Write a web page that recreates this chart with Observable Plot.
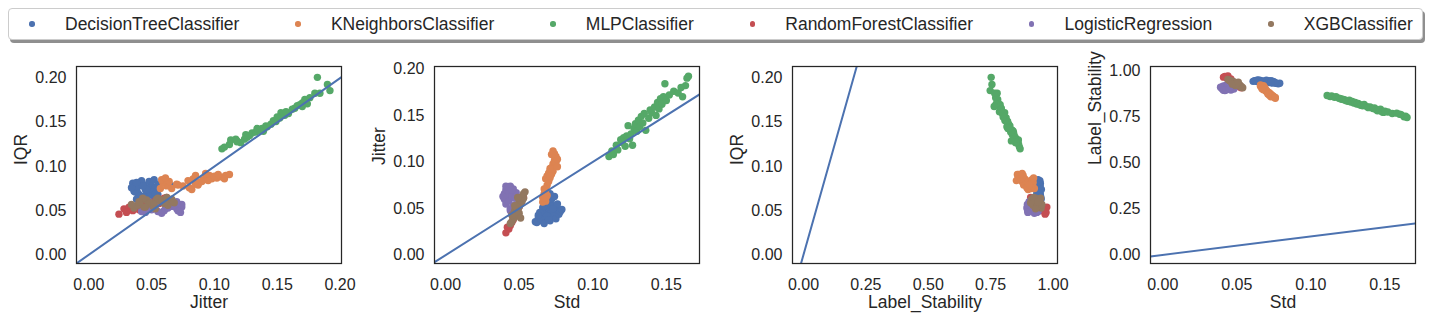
<!DOCTYPE html>
<html><head><meta charset="utf-8">
<script src="https://cdn.jsdelivr.net/npm/d3@7"></script>
<script src="https://cdn.jsdelivr.net/npm/@observablehq/plot@0.6"></script>
<style>
html,body{margin:0;padding:0;background:#fff}
body{width:1431px;height:317px;position:relative;overflow:hidden;font-family:"Liberation Sans",Arial,sans-serif;color:#262626}
#legend{position:absolute;left:8px;top:8px;width:1415px;height:32px;border:1px solid #cccccc;border-radius:4px;box-shadow:2px 3px 0 #8f8f8f;background:#fff;display:flex;align-items:center;font-size:17.5px;box-sizing:border-box;padding-left:20.25px}
.item{display:flex;align-items:center;white-space:nowrap}
.sw{width:5.5px;height:5.5px;border-radius:50%;margin-right:30.25px;flex:none}
.item + .item{margin-left:55.75px}
.panel{position:absolute;top:56px}
</style>
</head><body>
<div id="legend"></div>
<div id="charts"></div>
<script>
// ---- data: each row is [Std, Jitter, IQR, Label_Stability] ----
const classifiers = ["DecisionTreeClassifier","KNeighborsClassifier","MLPClassifier","RandomForestClassifier","LogisticRegression","XGBClassifier"];
const colors = ["#4C72B0","#DD8452","#55A868","#C44E52","#8172B3","#937860"];
const columns = ["std","jitter","iqr","stab"];

const decisionTree = [
[0.061,0.036,0.072,0.945],[0.063,0.040,0.068,0.948],[0.064,0.037,0.075,0.944],[0.065,0.044,0.079,0.942],
[0.066,0.041,0.066,0.950],[0.067,0.048,0.083,0.938],[0.068,0.039,0.070,0.946],[0.068,0.045,0.074,0.943],
[0.069,0.052,0.085,0.940],[0.070,0.043,0.064,0.951],[0.070,0.050,0.078,0.941],[0.071,0.037,0.071,0.947],
[0.071,0.055,0.080,0.944],[0.072,0.047,0.073,0.945],[0.072,0.060,0.082,0.939],[0.073,0.041,0.067,0.949],
[0.073,0.053,0.076,0.942],[0.074,0.046,0.069,0.946],[0.074,0.063,0.080,0.936],[0.075,0.039,0.077,0.943],
[0.076,0.049,0.072,0.938],[0.077,0.044,0.065,0.934],[0.078,0.047,0.075,0.932],[0.079,0.049,0.070,0.935],
[0.062,0.035,0.081,0.949],[0.065,0.038,0.063,0.952],[0.069,0.042,0.084,0.947],[0.067,0.034,0.076,0.944],
[0.071,0.066,0.078,0.948],[0.066,0.051,0.071,0.946],[0.064,0.046,0.074,0.953],[0.076,0.055,0.068,0.936],
[0.063,0.043,0.078,0.947],[0.070,0.038,0.082,0.944],[0.073,0.050,0.066,0.940],[0.067,0.053,0.069,0.943]
];
const kNeighbors = [
[0.066,0.057,0.075,0.925],[0.066,0.062,0.078,0.918],[0.067,0.059,0.082,0.920],[0.067,0.066,0.075,0.912],
[0.068,0.058,0.085,0.915],[0.068,0.070,0.080,0.908],[0.069,0.064,0.083,0.910],[0.069,0.075,0.078,0.903],
[0.068,0.082,0.074,0.900],[0.069,0.085,0.080,0.897],[0.070,0.079,0.084,0.893],[0.070,0.088,0.082,0.890],
[0.071,0.083,0.086,0.887],[0.071,0.091,0.085,0.884],[0.072,0.087,0.079,0.882],[0.072,0.094,0.088,0.878],
[0.073,0.090,0.083,0.875],[0.073,0.098,0.086,0.872],[0.074,0.096,0.090,0.868],[0.074,0.102,0.087,0.866],
[0.075,0.100,0.089,0.862],[0.075,0.106,0.088,0.860],[0.076,0.103,0.091,0.857],[0.074,0.109,0.090,0.864],
[0.073,0.112,0.091,0.861],[0.072,0.108,0.086,0.870],[0.070,0.080,0.076,0.895],[0.071,0.085,0.090,0.880],
[0.067,0.071,0.079,0.905],[0.076,0.095,0.084,0.853],[0.068,0.061,0.087,0.922],[0.071,0.093,0.092,0.876]
];
const mlp = [
[0.111,0.106,0.120,0.868],[0.113,0.112,0.125,0.862],[0.114,0.108,0.122,0.865],[0.116,0.118,0.128,0.858],
[0.117,0.113,0.130,0.861],[0.119,0.124,0.131,0.853],[0.120,0.121,0.127,0.850],[0.121,0.126,0.133,0.848],
[0.122,0.117,0.131,0.846],[0.123,0.128,0.135,0.844],[0.124,0.139,0.140,0.840],[0.125,0.125,0.136,0.837],
[0.126,0.130,0.138,0.842],[0.127,0.118,0.129,0.833],[0.128,0.136,0.141,0.836],[0.129,0.141,0.146,0.827],
[0.130,0.133,0.139,0.830],[0.131,0.145,0.148,0.822],[0.132,0.138,0.143,0.825],[0.133,0.149,0.151,0.818],
[0.134,0.142,0.145,0.815],[0.135,0.152,0.155,0.812],[0.136,0.134,0.143,0.819],[0.138,0.147,0.152,0.807],
[0.139,0.156,0.158,0.802],[0.140,0.153,0.161,0.806],[0.142,0.159,0.160,0.797],[0.143,0.150,0.156,0.800],
[0.144,0.164,0.166,0.792],[0.145,0.157,0.162,0.785],[0.146,0.168,0.170,0.788],[0.147,0.162,0.165,0.793],
[0.148,0.170,0.172,0.780],[0.149,0.184,0.183,0.776],[0.150,0.166,0.169,0.783],[0.152,0.172,0.176,0.778],
[0.155,0.176,0.178,0.770],[0.158,0.174,0.171,0.772],[0.161,0.170,0.168,0.764],[0.163,0.182,0.201,0.752],
[0.164,0.190,0.193,0.755],[0.165,0.192,0.186,0.748],[0.160,0.180,0.183,0.766]
];
const randomForest = [
[0.041,0.024,0.046,0.968],[0.043,0.028,0.052,0.965],[0.044,0.032,0.054,0.975],[0.045,0.035,0.050,0.955],
[0.046,0.038,0.055,0.950],[0.047,0.042,0.053,0.945],[0.048,0.045,0.057,0.940],[0.049,0.048,0.055,0.935],
[0.050,0.052,0.060,0.930],[0.051,0.056,0.058,0.925],[0.052,0.060,0.064,0.915],[0.053,0.062,0.065,0.910],
[0.042,0.030,0.048,0.972],[0.046,0.040,0.051,0.958]
];
const logistic = [
[0.040,0.060,0.050,0.915],[0.040,0.066,0.055,0.905],[0.041,0.055,0.049,0.920],[0.041,0.070,0.052,0.900],
[0.042,0.062,0.058,0.910],[0.042,0.072,0.053,0.895],[0.043,0.058,0.047,0.925],[0.043,0.068,0.056,0.908],
[0.044,0.050,0.051,0.930],[0.044,0.074,0.054,0.902],[0.045,0.064,0.059,0.912],[0.045,0.045,0.048,0.935],
[0.046,0.071,0.050,0.898],[0.046,0.053,0.057,0.918],[0.047,0.061,0.052,0.906],[0.047,0.042,0.049,0.940],
[0.048,0.067,0.055,0.903],[0.039,0.063,0.053,0.913],[0.041,0.074,0.057,0.897],[0.044,0.048,0.060,0.928],
[0.043,0.073,0.048,0.899],[0.045,0.070,0.060,0.904]
];
const xgb = [
[0.045,0.036,0.053,0.952],[0.046,0.039,0.056,0.948],[0.046,0.044,0.054,0.944],[0.047,0.041,0.060,0.946],
[0.047,0.048,0.058,0.940],[0.048,0.046,0.062,0.942],[0.048,0.051,0.055,0.936],[0.049,0.049,0.059,0.938],
[0.049,0.054,0.063,0.932],[0.050,0.052,0.057,0.934],[0.050,0.057,0.061,0.928],[0.051,0.055,0.064,0.930],
[0.051,0.060,0.058,0.924],[0.052,0.058,0.062,0.926],[0.052,0.063,0.056,0.920],[0.053,0.061,0.060,0.918],
[0.053,0.066,0.063,0.914],[0.054,0.068,0.059,0.910],[0.044,0.034,0.057,0.955],[0.045,0.043,0.064,0.950],
[0.050,0.045,0.054,0.935],[0.049,0.062,0.065,0.922],[0.047,0.053,0.052,0.930],[0.051,0.040,0.060,0.940]
];
const seriesRows = [decisionTree, kNeighbors, mlp, randomForest, logistic, xgb];

// ---- axes ----
const xVars   = ["jitter","std","stab","std"];
const yVars   = ["iqr","jitter","iqr","stab"];
const xLabels = ["Jitter","Std","Label_Stability","Std"];
const yLabels = ["IQR","Jitter","IQR","Label_Stability"];
const xTicks  = [[0,0.05,0.10,0.15,0.20],[0,0.05,0.10,0.15],[0,0.25,0.5,0.75,1.0],[0,0.05,0.10,0.15]];
const yTicks  = [[0,0.05,0.10,0.15,0.20],[0,0.05,0.10,0.15,0.20],[0,0.05,0.10,0.15,0.20],[0,0.25,0.5,0.75,1.0]];
const xDomains = [[-0.0098,0.2012],[-0.0075,0.1725],[-0.044,1.0177],[-0.0083,0.1707]];
const yDomains = [[-0.0099,0.2133],[-0.0089,0.2025],[-0.0099,0.2133],[-0.047,1.026]];
const diagEnds = [[-0.0098,0.2012],[-0.0075,0.1725],[-0.0099,0.2133],[-0.0083,0.1707]];

// ---- layout ----
const frameLefts = [76,434,792,1150];
const frameW = 265, frameH = 197;
const mL = 70, mR = 12, mT = 10, mB = 51;
const ink = "#262626";
const fmt = d3.format(".2f");

const series = seriesRows.map((rows, i) => rows.map(r => {
  const o = {cls: classifiers[i]};
  columns.forEach((c, j) => o[c] = r[j]);
  return o;
}));

// legend
const legend = document.getElementById("legend");
classifiers.forEach((c, i) => {
  const it = document.createElement("div");
  it.className = "item";
  it.innerHTML = `<span class="sw" style="background:${colors[i]}"></span><span>${c}</span>`;
  legend.appendChild(it);
});

const charts = document.getElementById("charts");
for (let p = 0; p < 4; p++) {
  const xv = xVars[p], yv = yVars[p];
  const diag = diagEnds[p].map(v => ({a: v}));
  const svg = Plot.plot({
    width: mL + frameW + mR,
    height: mT + frameH + mB,
    marginLeft: mL, marginRight: mR, marginTop: mT, marginBottom: mB,
    style: {fontFamily: '"Liberation Sans", Arial, sans-serif', fontSize: "16px", color: ink, background: "transparent", overflow: "visible"},
    x: {domain: xDomains[p], ticks: xTicks[p], tickFormat: fmt, tickSize: 0, tickPadding: 15, label: null},
    y: {domain: yDomains[p], ticks: yTicks[p], tickFormat: fmt, tickSize: 0, tickPadding: 10, label: null},
    marks: [
      ...series.map((s, i) => Plot.dot(s, {x: xv, y: yv, r: 3.7, fill: colors[i], stroke: "none"})),
      Plot.line(diag, {x: "a", y: "a", stroke: "#4C72B0", strokeWidth: 2, clip: true}),
      Plot.frame({stroke: ink, strokeWidth: 1.25}),
      Plot.text([xLabels[p]], {text: d => d, frameAnchor: "bottom", lineAnchor: "middle", dy: 39, fontSize: 17.5, fill: ink}),
      Plot.text([yLabels[p]], {text: d => d, frameAnchor: "left", dx: -55, rotate: -90, fontSize: 17.5, fill: ink})
    ]
  });
  svg.classList.add("panel");
  svg.style.position = "absolute";
  svg.style.left = (frameLefts[p] - mL) + "px";
  svg.style.top = (66 - mT) + "px";
  charts.appendChild(svg);
}
</script>
</body></html>
